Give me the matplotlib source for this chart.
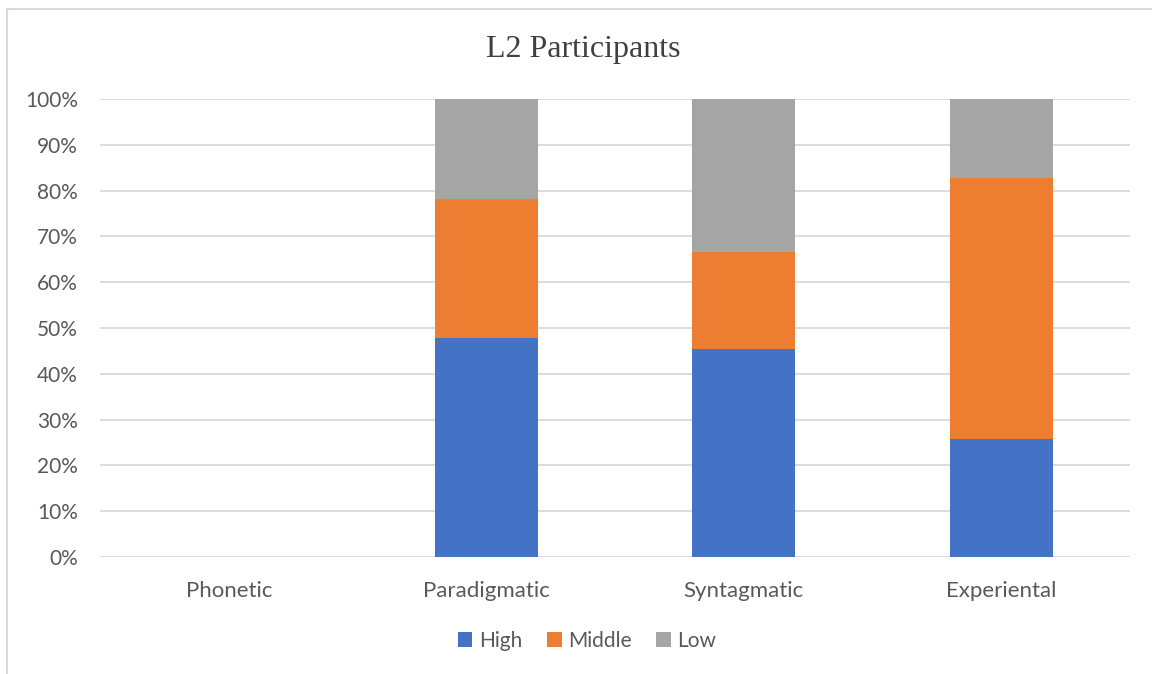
import numpy as np
import matplotlib.pyplot as plt
from matplotlib.patches import Rectangle

# Share of L2 participants per level, in percent
categories = ['Phonetic', 'Paradigmatic', 'Syntagmatic', 'Experiental']
high = [0, 47.8, 45.5, 25.7]
middle = [0, 30.4, 21.2, 57.1]
low = [0, 21.8, 33.3, 17.2]
levels = ['High', 'Middle', 'Low']
colors = ['#4472C4', '#ED7D31', '#A5A5A5']

fig = plt.figure(figsize=[11.52, 6.74], dpi=100)
ax = fig.add_axes([100/1152, 1-557/674, 1030/1152, 458/674])

# Chart frame (left and top edges show, the rest runs off the canvas)
fig.patches.append(Rectangle((7/1152, -0.1), 1.2, 1-9/674+0.1, transform=fig.transFigure,
                             fill=False, edgecolor='#D9D9D9', lw=1.5, zorder=0))

x = np.arange(len(categories))
bottom = np.zeros(len(categories))
for name, vals, c in zip(levels, [high, middle, low], colors):
    ax.bar(x, vals, width=0.4, bottom=bottom, color=c, label=name, zorder=3)
    bottom += np.array(vals)

ax.set_xlim(-0.5, len(categories) - 0.5)
ax.set_ylim(0, 100)
ax.set_yticks(np.arange(0, 101, 10))
ax.set_yticklabels([f'{v}%' for v in range(0, 101, 10)])
ax.set_xticks(x)
ax.set_xticklabels(categories)
ax.yaxis.grid(True, color='#D9D9D9', lw=1.3, zorder=0)
ax.set_axisbelow(True)
for s in ax.spines.values():
    s.set_visible(False)
ax.tick_params(axis='y', length=0, labelsize=15, labelcolor='#595959', pad=16)
ax.tick_params(axis='x', length=0, labelsize=16, labelcolor='#595959', pad=17)
for lab in ax.get_xticklabels() + ax.get_yticklabels():
    lab.set_fontfamily('Lato')

fig.text(583/1152, 1-49/674, 'L2 Participants', ha='center', va='center',
         fontsize=23, family='Liberation Serif', color='#404040')

leg = fig.legend(loc='center', bbox_to_anchor=(587/1152, 1-641/674), ncol=3, frameon=False,
                 prop={'family': 'Lato', 'size': 15}, handlelength=0.7, handleheight=0.7,
                 handletextpad=0.3, columnspacing=1.2)
for t in leg.get_texts():
    t.set_color('#595959')

plt.savefig('out.png', dpi=100)
